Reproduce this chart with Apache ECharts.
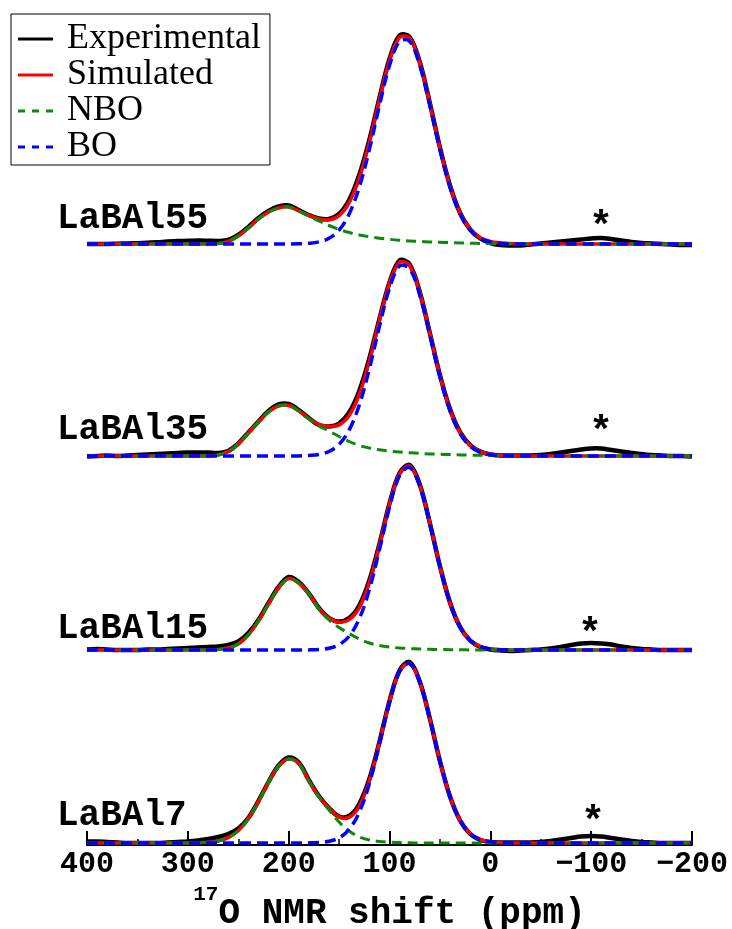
<!DOCTYPE html>
<html><head><meta charset="utf-8">
<script src="https://cdn.jsdelivr.net/npm/echarts@6/dist/echarts.min.js"></script>
<style>html,body{margin:0;padding:0;background:#fff}#c{width:732px;height:929px}</style>
</head><body><div id="c"></div>
<script>
// chemical shift grid (ppm)
const shifts = [400,390,380,370,360,350,340,330,320,310,300,290,280,270,260,250,240,230,220,210,200,190,180,170,160,150,140,130,120,110,100,90,80,70,60,50,40,30,20,10,0,-10,-20,-30,-40,-50,-60,-70,-80,-90,-100,-110,-120,-130,-140,-150,-160,-170,-180,-190,-200];
const sampleNames = ['LaBAl55','LaBAl35','LaBAl15','LaBAl7'];
const offsets = [601, 389, 195, 2];
const seriesNames = ['Experimental','Simulated','NBO','BO'];

// LaBAl55
const exp55 = [0,0,0,0.3,0.5,0.8,1.2,1.8,2.5,3,3.2,3.5, 3.3,3,4,9,17,26,33,37.5,38.5,34, 29,25.5,25,30,44,69,104,146,185,208.5, 207,182,141,96.5,58.5,31,14.5,5.5,1,-1, -1.5,-1.5,-0.5,0.5,1.5,2.5,3.5,4.5,5.5,6, 5,3.5,2,1,0.5,0,-0.5,-1,-1];
const nbo55 = [0,0,0,0,0,0,0,0,0,0,0,0, 0,0.5,2.5,8,16,25,32,36,37,33,28,23,18.5,14.5,11.5,9,7.2,5.8,4.7,3.8,3.1,2.6,2.1,1.7,1.4,1.1,0.8,0.6,0.4,0.3,0.2,0.1, 0,0,0,0,0,0,0,0,0,0,0,0,0,0,0,0,0];
const bo55 = [0,0,0,0,0,0,0,0,0,0,0,0,0,0,0,0,0,0,0,0, 0,0.2,0.7,2.1,5.7,13.9,29.9,56.7,94.3,138.3,178.5,202.7,202.7,178.5,138.3,94.3,56.7,29.9,13.9,5.7,2.1,0.7,0.2, 0,0,0,0,0,0,0,0,0,0,0,0,0,0,0,0,0,0];

// LaBAl35
const exp35 = [-0.5,0,0.5,0,0.5,1,1.5,2,2.5,3,3.5,3.5, 3.5,3,5,12.5,23.5,34.5,45,51.5,52,46, 38,31,29.5,32.5,43.5,65,97.5,137,173.5,195.5, 191.5,164,123,81,47,24,11,4.5,1.5,0.5, 0.5,0.5,0.5,1,2,3.5,5,6.5,7.5,7.5, 6,4.5,3,2,1,0.5,0,0,-0.5];
const nbo35 = [0,0,0,0,0,0,0,0,0,0,0,0, 0,1,4.5,12,23,34,44,50,50.5,45,37,30,25,19.5,14.5,10.5,8,6.2,4.9,3.9,3.2,2.6,2.1,1.7,1.4,1.1,0.9,0.7,0.5,0.3,0.2,0.1, 0,0,0,0,0,0,0,0,0,0,0,0,0,0,0,0,0];
const bo35 = [0,0,0,0,0,0,0,0,0,0,0,0,0,0,0,0,0,0,0,0, 0,0.1,0.5,1.5,4.5,11.6,26,50.9,86.9,129.4,167.8,189.9,187.3,161.1,120.8,78.9,45,22.3,9.7,3.7,1.2,0.3,0.1, 0,0,0,0,0,0,0,0,0,0,0,0,0,0,0,0,0,0];

// LaBAl15
const exp15 = [0.5,1,0.5,0,0,0,0.5,0.5,1,1.5,2,2.5, 3,3.5,5,8.5,17,30,47,63,73,68, 56.5,42,32,28.5,32,44.5,69.5,106,146.5,177, 185,165.5,127,84,47.5,23,9.5,3,0.5,-0.5, -1,-0.5,0,0.5,1.5,3,5,6.5,7,6.5, 5.5,3.5,2,1,0.5,0,0,0,0];
const nbo15 = [0,0,0,0,0,0,0,0,0,0,0,0, 0,0.5,2,6,15,29,46,62,71.5,67,56,41,30,22.5,16.5,11,7,4.5,3,2,1.4,1,0.7,0.5,0.3,0.2,0.1,0,0,0,0,0, 0,0,0,0,0,0,0,0,0,0,0,0,0,0,0,0,0];
const bo15 = [0,0,0,0,0,0,0,0,0,0,0,0,0,0,0,0,0,0,0,0, 0,0,0.1,0.5,1.7,5.2,13.8,31.1,60.3,100.1,142.6,174.2,182.5,163.8,126.1,83.3,47.1,22.9,9.5,3.4,1,0.3,0.1, 0,0,0,0,0,0,0,0,0,0,0,0,0,0,0,0,0,0];

// LaBAl7
const exp7 = [1.5,1.5,1,0.5,0,0,0,0,0.5,1,1.5,2.5, 4,6,9,14.5,25,42,61,77.5,85.5,80.5, 63,47,35,26.5,27,39,64,101,142,172.5, 181,161.5,124.5,82,46.5,22.5,9,3,1,0.5, 0.5,0.5,0.5,1,2,3.5,5,6.5,7,6.5, 5,3.5,2,1,0.5,0,0,0,0];
const nbo7 = [0,0,0,0,0,0,0,0,0,0,0,0.2, 0.7,2,5.4,12.3,24.2,41.3,60.6,76.8,84,79.5,62,46,33,21,12,6,3,1.5,0.8,0.4,0.2,0,0,0,0,0,0,0,0,0,0,0, 0,0,0,0,0,0,0,0,0,0,0,0,0,0,0,0,0];
const bo7 = [0,0,0,0,0,0,0,0,0,0,0,0,0,0,0,0,0,0,0,0, 0,0,0.1,0.5,1.7,5.1,13.6,30.6,59.3,98.5,140.3,171.4,179.4,161.1,124.1,81.9,46.4,22.5,9.4,3.3,1,0.3,0.1, 0,0,0,0,0,0,0,0,0,0,0,0,0,0,0,0,0,0];

const expData = [exp55, exp35, exp15, exp7];
const nboData = [nbo55, nbo35, nbo15, nbo7];
const boData = [bo55, bo35, bo15, bo7];

const chart = echarts.init(document.getElementById('c'), null, {renderer: 'canvas'});
function pts(arr, off) { return shifts.map((x, i) => [x, off + arr[i]]); }
const styles = {
  Experimental: {color: '#000000', width: 4.5, dash: null, z: 2},
  Simulated: {color: '#ff0000', width: 3.5, dash: null, z: 3},
  NBO: {color: '#0a8a0a', width: 3, dash: [10, 6], z: 4},
  BO: {color: '#0000ff', width: 3.5, dash: [11, 6], z: 5}
};
const series = [];
function addSeries(name, arr, off) {
  const s = styles[name];
  const data = pts(arr, off);
  series.push({
    name: name, type: 'custom', coordinateSystem: 'cartesian2d',
    data: [data[0]], itemStyle: {color: s.color}, z: s.z, silent: true,
    renderItem: function (params, api) {
      const points = data.map(p => api.coord(p));
      return {
        type: 'polyline', silent: true,
        shape: {points: points, smooth: 0.35},
        style: {stroke: s.color, lineWidth: s.width, lineDash: s.dash, fill: null, lineJoin: 'round'}
      };
    }
  });
}
for (let k = 0; k < 4; k++) {
  const sim = nboData[k].map((v, i) => v + boData[k][i]);
  addSeries('Experimental', expData[k], offsets[k]);
  addSeries('Simulated', sim, offsets[k]);
  addSeries('NBO', nboData[k], offsets[k]);
  addSeries('BO', boData[k], offsets[k]);
}

const monoBold = {fontFamily: 'Liberation Mono', fontWeight: 'bold', fill: '#000'};
const labelPos = [[57, 219], [57, 430], [57, 629], [57, 816]];
const starPos = [[601, 218], [601, 423], [590, 625], [593, 813]];
const graphics = [];
sampleNames.forEach((n, k) => {
  graphics.push({type: 'text', left: labelPos[k][0], top: labelPos[k][1] - 18,
    style: Object.assign({text: n, fontSize: 36}, monoBold)});
  graphics.push({type: 'text', x: starPos[k][0], y: starPos[k][1] + 11,
    style: Object.assign({text: '*', fontSize: 40, align: 'center', verticalAlign: 'middle'}, monoBold)});
});

const solidIcon = 'path://M0,0H35V3H0Z';
const dashIcon = 'path://M0,0H7V3H0ZM14,0H21V3H14ZM28,0H35V3H28Z';

chart.setOption({
  animation: false,
  backgroundColor: '#ffffff',
  grid: {left: 87, right: 40, top: 35, bottom: 84, containLabel: false, outerBoundsMode: 'none'},
  legend: {
    data: [
      {name: 'Experimental', icon: solidIcon},
      {name: 'Simulated', icon: solidIcon},
      {name: 'NBO', icon: dashIcon},
      {name: 'BO', icon: dashIcon}
    ],
    orient: 'vertical', left: 11, top: 14,
    padding: [7, 9, 0, 7], itemGap: 0, itemWidth: 35, itemHeight: 3,
    borderColor: '#000', borderWidth: 1, backgroundColor: '#fff',
    textStyle: {fontFamily: 'Liberation Serif', fontSize: 36, color: '#000', lineHeight: 35, padding: [0, 0, 0, 9]},
    selectedMode: false
  },
  xAxis: {
    type: 'value', min: -200, max: 400, interval: 100, inverse: true,
    axisLine: {show: true, onZero: false, lineStyle: {color: '#000', width: 2}},
    axisTick: {show: true, inside: true, length: 14, lineStyle: {color: '#000', width: 2}},
    minorTick: {show: true, splitNumber: 2, length: 6, lineStyle: {color: '#000', width: 1.5}},
    splitLine: {show: false}, minorSplitLine: {show: false},
    axisLabel: {
      color: '#000', fontFamily: 'Liberation Mono', fontWeight: 'bold', fontSize: 30, margin: 4,
      formatter: v => String(v).replace('-', '\u2212')
    },
    name: '{sup|17}{main|O NMR shift (ppm)}',
    nameLocation: 'middle', nameGap: 33,
    nameTextStyle: {
      rich: {
        sup: {fontFamily: 'Liberation Mono', fontWeight: 'bold', fontSize: 21, color: '#000', verticalAlign: 'top', lineHeight: 21},
        main: {fontFamily: 'Liberation Mono', fontWeight: 'bold', fontSize: 36, color: '#000', verticalAlign: 'bottom', lineHeight: 48}
      }
    }
  },
  yAxis: {type: 'value', min: 0, max: 810, show: false},
  graphic: graphics,
  series: series
});
</script></body></html>
